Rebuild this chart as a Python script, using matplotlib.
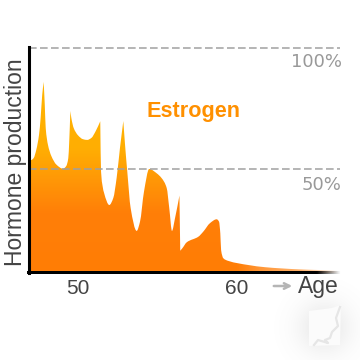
import numpy as np
import matplotlib
matplotlib.use("Agg")
import matplotlib.pyplot as plt
from matplotlib.colors import LinearSegmentedColormap
from matplotlib.patches import Polygon, PathPatch
from matplotlib.path import Path

# Data
age = [46.92, 47.06, 47.21, 47.38, 47.55, 47.65, 47.75, 47.84, 47.91, 47.97, 48.11, 48.32, 48.64, 49.06,
       49.26, 49.39, 49.45, 49.52, 49.58, 49.73, 50.00, 50.31, 50.58, 50.84, 51.11, 51.40, 51.45, 51.64,
       51.97, 52.22, 52.43, 52.64, 52.85, 52.96, 53.10, 53.31, 53.69, 53.90, 54.15, 54.48, 54.95, 55.26,
       55.58, 55.74, 55.91, 56.10, 56.38, 56.43, 56.56, 56.84, 57.57, 57.88, 58.30, 58.72, 58.87, 58.95,
       59.00, 59.14, 59.45, 60.71, 61.76, 63.96, 66.48]
estrogen = [55.4, 53.7, 54.5, 58.0, 64.2, 71.1, 80.7, 86.0, 76.6, 66.9, 60.0, 55.4, 51.8, 50.1,
            51.2, 54.5, 61.6, 74.0, 71.1, 66.9, 63.9, 62.3, 62.0, 62.8, 65.6, 69.7, 48.9, 40.1,
            35.1, 38.0, 46.3, 58.7, 69.8, 59.9, 48.9, 33.9, 24.4, 28.2, 40.6, 50.0, 48.2, 46.2,
            42.1, 33.8, 24.4, 29.6, 39.0, 16.2, 17.2, 19.7, 22.0, 24.1, 27.6, 29.2, 28.2, 23.4,
            16.5, 13.1, 12.0, 10.3, 9.4, 8.5, 8.0]
cusp_ages = [47.84, 49.52, 51.40, 52.85, 56.38, 56.43]
reference_levels = [100, 50]
reference_labels = ["100%", "50%"]
age_ticks = [50, 60]
age_tick_labels = ["50", "60"]


def smooth_outline(xs, ys, cusps):
    """Bezier outline through the points: monotone tangents, sharp at the cusps."""
    xs, ys = np.asarray(xs), np.asarray(ys)
    cuts = [0] + [i for i, v in enumerate(xs) if v in cusps] + [len(xs) - 1]
    verts, codes = [(xs[0], ys[0])], [Path.MOVETO]
    for a, b in zip(cuts[:-1], cuts[1:]):
        x, y = xs[a:b + 1], ys[a:b + 1]
        h = np.diff(x)
        d = np.diff(y) / h
        m = np.zeros_like(x)
        m[0], m[-1] = d[0], d[-1]
        for i in range(1, len(x) - 1):
            if d[i - 1] * d[i] > 0:
                w1, w2 = 2 * h[i] + h[i - 1], h[i] + 2 * h[i - 1]
                m[i] = (w1 + w2) / (w1 / d[i - 1] + w2 / d[i])
        for i in range(len(h)):
            verts += [(x[i] + h[i] / 3, y[i] + m[i] * h[i] / 3),
                      (x[i + 1] - h[i] / 3, y[i + 1] - m[i + 1] * h[i] / 3),
                      (x[i + 1], y[i + 1])]
            codes += [Path.CURVE4] * 3
    return verts, codes


W = H = 360
fig = plt.figure(figsize=(3.6, 3.6), dpi=100, facecolor="white")

# Watermark overlay in pixel space
bg = fig.add_axes([0, 0, 1, 1], zorder=0)
bg.set_xlim(0, W)
bg.set_ylim(H, 0)
bg.axis("off")
yy, xx = np.mgrid[0:H, 0:W]
blob = np.exp(-(((xx - 324) / 26.0) ** 2 + ((yy - 327) / 26.0) ** 2))
rgba = np.ones((H, W, 4))
rgba[..., :3] = 0.5
rgba[..., 3] = 0.17 * blob
bg.imshow(rgba, extent=(0, W, H, 0), aspect="auto", interpolation="bilinear")
bg.add_patch(Polygon([(309, 311), (332, 308), (341, 305), (340, 345), (309, 346)], fc="#fbfbfb", ec="none"))
bg.plot([340, 336, 338, 332, 330, 325, 328, 318, 314], [307, 318, 326, 332, 338, 340, 343, 340, 345],
        color="#e6e6e6", lw=1.6)
bg.set_xlim(0, W)
bg.set_ylim(H, 0)

# Main axes
left, right, top, bottom = 28.5, 340.0, 47.0, 273.0
ax = fig.add_axes([left / W, 1 - bottom / H, (right - left) / W, (bottom - top) / H], zorder=1)
ax.patch.set_alpha(0)
x0, x1 = 46.887, 66.478
y0, y1 = 7.0, 100.4
ax.set_xlim(x0, x1)
ax.set_ylim(y0, y1)

# Gradient fill clipped to the curve
cmap = LinearSegmentedColormap.from_list("est", [(0.0, "#ff7d05"), (0.30, "#ff7f08"), (0.48, "#ff9a06"),
                                                 (0.62, "#ffae03"), (1.0, "#ffb500")])
ny, nx = 400, 400
gy = np.linspace(y0, y1, ny)
gx = np.linspace(x0, x1, nx)
img = np.zeros((ny, nx, 4))
img[..., :3] = cmap(np.clip((gy - y0) / (90 - y0), 0, 1))[:, None, :3]
fade = np.interp(gx, [60.0, 61.45, 63.96, 66.3], [1.0, 0.8, 0.6, 0.0])
img[..., 3] = fade[None, :]
im = ax.imshow(img, extent=(x0, x1, y0, y1), origin="lower", aspect="auto", zorder=1)
verts, codes = smooth_outline(age, estrogen, cusp_ages)
verts += [(age[-1], y0), (age[0], y0), (age[0], estrogen[0])]
codes += [Path.LINETO, Path.LINETO, Path.CLOSEPOLY]
poly = PathPatch(Path(verts, codes), fc="none", ec="none", transform=ax.transData)
ax.add_patch(poly)
im.set_clip_path(poly)
ax.set_xlim(x0, x1)
ax.set_ylim(y0, y1)

# Reference lines and labels
for lev, lab, drop in zip(reference_levels, reference_labels, [2.0, 2.9]):
    ax.axhline(lev, color="#a0a0a0", lw=1.1, dashes=(5, 2.2), zorder=2)
    ax.text(x1 + 0.12, lev - drop, lab, ha="right", va="top", color="#999999", fontsize=13,
            family="DejaVu Sans", zorder=3)

# Axis lines
for s in ["top", "right", "bottom"]:
    ax.spines[s].set_visible(False)
ax.spines["left"].set_linewidth(2.2)
ax.spines["left"].set_color("black")
ax.set_yticks([])
ax.set_xticks(age_ticks, age_tick_labels)
ax.tick_params(axis="x", length=0, pad=4, labelsize=15, labelcolor="#444444")
for t in ax.get_xticklabels():
    t.set_family("Liberation Sans")

bar = np.zeros((1, nx, 4))
bar[..., 3] = np.interp(gx, [x0, 65.0, 66.48], [1.0, 1.0, 0.0])[None, :]
ax.imshow(bar, extent=(x0 - 0.1, x1, y0 - 0.45, y0 + 0.45), origin="lower", aspect="auto", zorder=4, clip_on=False)
ax.set_xlim(x0, x1)
ax.set_ylim(y0, y1)

# Texts
fig.text(15.5 / W, 1 - 162 / H, "Hormone production", rotation=90, ha="center", va="center",
         fontsize=16.5, color="#444444", family="Liberation Sans")
fig.text(193.5 / W, 1 - 112 / H, "Estrogen", ha="center", va="center", fontsize=15.6, fontweight="bold",
         color="#ff9000", family="Liberation Sans")
fig.text(318 / W, 1 - 286 / H, "Age", ha="center", va="center", fontsize=16.5, color="#444444",
         family="Liberation Sans")
bg.annotate("", xy=(295, 286), xytext=(271, 286),
            arrowprops=dict(arrowstyle="->", color="#b5b5b5", lw=1.8, mutation_scale=10))

fig.savefig("out.png", dpi=100, facecolor="white")
